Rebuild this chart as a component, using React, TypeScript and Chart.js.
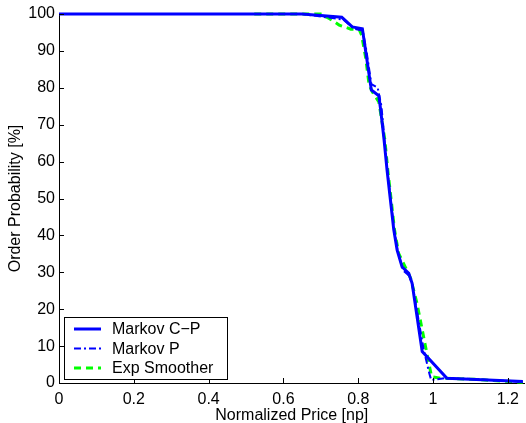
import React, { useEffect, useRef } from "react";
import { Chart, registerables } from "chart.js";

Chart.register(...registerables);

// ---- data ----
const cpX = [0, 0.3, 0.65, 0.756, 0.784, 0.811, 0.835, 0.855, 0.86, 0.869, 0.877, 0.886, 0.895, 0.904, 0.917, 0.935, 0.944, 0.971, 1.037, 1.1, 1.24];
const cpY = [100, 100, 100, 99.1, 96.5, 96, 79.4, 77.8, 74, 65.9, 57.7, 49.6, 41.5, 36, 31.5, 29.7, 27, 8.5, 1.3, 1.0, 0.4];

const pX = [0, 0.65, 0.76, 0.79, 0.812, 0.822, 0.835, 0.852, 0.862, 0.87, 0.878, 0.887, 0.896, 0.906, 0.92, 0.937, 0.946, 0.975, 0.99, 0.995, 1.03, 1.1, 1.24];
const pY = [100, 100, 98.5, 96, 95.5, 90, 81, 80, 75, 66, 57.7, 49.6, 41.5, 35.5, 30.5, 29, 26, 9, 2.6, 0.8, 1.3, 1.1, 0.3];

const esX = [0.522, 0.7, 0.722, 0.749, 0.78, 0.802, 0.809, 0.82, 0.829, 0.837, 0.855, 0.871, 0.879, 0.888, 0.897, 0.908, 0.94, 0.957, 0.98, 0.989, 0.996, 1.02, 1.11, 1.24];
const esY = [100, 100, 98.8, 97, 95.9, 95.9, 94.3, 88, 80.8, 79, 76.2, 66, 57.7, 49.6, 41.5, 35.1, 28.4, 21.6, 9.8, 5.3, 1.7, 1.3, 1.0, 0.2];

const seriesLabels = ["Markov C\u2212P", "Markov P", "Exp Smoother"];
const xTicks = [0, 0.2, 0.4, 0.6, 0.8, 1, 1.2];
const yTicks = [0, 10, 20, 30, 40, 50, 60, 70, 80, 90, 100];
const xTitle = "Normalized Price [np]";
const yTitle = "Order Probability [%]";

const FONT = "'Liberation Sans', Arial, Helvetica, sans-serif";
const FS = 16;

const toPoints = (xs: number[], ys: number[]) => xs.map((x, i) => ({ x, y: ys[i] }));

const inwardTicks = {
  id: "inwardTicks",
  afterDraw(chart: any) {
    const { ctx, chartArea, scales } = chart;
    ctx.save();
    ctx.strokeStyle = "#000";
    ctx.lineWidth = 1;
    ctx.beginPath();
    xTicks.forEach((v) => {
      const px = Math.round(scales.x.getPixelForValue(v)) + 0.5;
      ctx.moveTo(px, chartArea.bottom);
      ctx.lineTo(px, chartArea.bottom - 5);
    });
    yTicks.forEach((v) => {
      const py = Math.round(scales.y.getPixelForValue(v)) + 0.5;
      ctx.moveTo(chartArea.left, py);
      ctx.lineTo(chartArea.left + 5, py);
    });
    ctx.stroke();
    ctx.restore();
  },
};

const boxLegend = {
  id: "boxLegend",
  afterDraw(chart: any) {
    const { ctx, chartArea } = chart;
    const x0 = chartArea.left + 5;
    const w = 163;
    const h = 62;
    const y0 = chartArea.bottom - 66;
    ctx.save();
    ctx.fillStyle = "#fff";
    ctx.fillRect(x0, y0, w, h);
    ctx.strokeStyle = "#000";
    ctx.lineWidth = 1;
    ctx.strokeRect(x0 + 0.5, y0 + 0.5, w, h);
    chart.data.datasets.forEach((ds: any, i: number) => {
      const y = y0 + 12 + i * 19.5;
      ctx.strokeStyle = ds.borderColor;
      ctx.lineWidth = ds.borderWidth;
      ctx.setLineDash(ds.borderDash || []);
      ctx.beginPath();
      ctx.moveTo(x0 + 10, y);
      ctx.lineTo(x0 + 37, y);
      ctx.stroke();
      ctx.setLineDash([]);
      ctx.fillStyle = "#000";
      ctx.font = `${FS}px ${FONT}`;
      ctx.textBaseline = "middle";
      ctx.textAlign = "left";
      ctx.fillText(ds.label, x0 + 48, y + 1);
    });
    ctx.restore();
  },
};

export default function App() {
  const ref = useRef<HTMLCanvasElement | null>(null);

  useEffect(() => {
    if (!ref.current) return;
    const chart = new Chart(ref.current, {
      type: "line",
      data: {
        datasets: [
          {
            label: seriesLabels[0],
            data: toPoints(cpX, cpY),
            borderColor: "#0000ff",
            borderWidth: 3,
            pointRadius: 0,
            tension: 0,
            fill: false,
            clip: 6,
          },
          {
            label: seriesLabels[1],
            data: toPoints(pX, pY),
            borderColor: "#0000ff",
            borderWidth: 2,
            borderDash: [7, 3, 2, 3],
            pointRadius: 0,
            tension: 0,
            fill: false,
            clip: 6,
          },
          {
            label: seriesLabels[2],
            data: toPoints(esX, esY),
            borderColor: "#00ff00",
            borderWidth: 3,
            borderDash: [7, 5],
            pointRadius: 0,
            tension: 0,
            fill: false,
            clip: 6,
          },
        ],
      },
      options: {
        animation: false,
        responsive: false,
        maintainAspectRatio: false,
        layout: { padding: { top: 14, right: 0, left: 0, bottom: 0 } },
        plugins: { legend: { display: false }, tooltip: { enabled: false } },
        scales: {
          x: {
            type: "linear",
            min: 0,
            max: 1.2445,
            afterBuildTicks: (s: any) => {
              s.ticks = xTicks.map((v) => ({ value: v }));
            },
            afterFit: (s: any) => {
              s.height = 40;
            },
            grid: { display: false, drawTicks: false },
            border: { display: true, color: "#000", width: 1 },
            ticks: {
              color: "#000",
              font: { family: FONT, size: FS },
              padding: 7,
              autoSkip: false,
              maxRotation: 0,
              callback: (v: any) => String(Math.round(Number(v) * 10) / 10),
            },
            title: {
              display: true,
              text: xTitle,
              color: "#000",
              font: { family: FONT, size: FS },
              padding: { top: 0, bottom: -2 },
            },
          },
          y: {
            type: "linear",
            min: 0,
            max: 100,
            afterBuildTicks: (s: any) => {
              s.ticks = yTicks.map((v) => ({ value: v }));
            },
            afterFit: (s: any) => {
              s.width = 59;
            },
            grid: { display: false, drawTicks: false },
            border: { display: true, color: "#000", width: 1 },
            ticks: {
              color: "#000",
              font: { family: FONT, size: FS },
              padding: 4,
              autoSkip: false,
            },
            title: {
              display: true,
              text: yTitle,
              color: "#000",
              font: { family: FONT, size: FS },
              padding: { top: 6, bottom: 0 },
            },
          },
        },
      },
      plugins: [inwardTicks, boxLegend],
    });
    return () => chart.destroy();
  }, []);

  return (
    <div style={{ position: "absolute", left: 0, top: 0, width: 526, height: 423, background: "#fff" }}>
      <canvas ref={ref} width={526} height={423} style={{ display: "block" }} />
    </div>
  );
}
